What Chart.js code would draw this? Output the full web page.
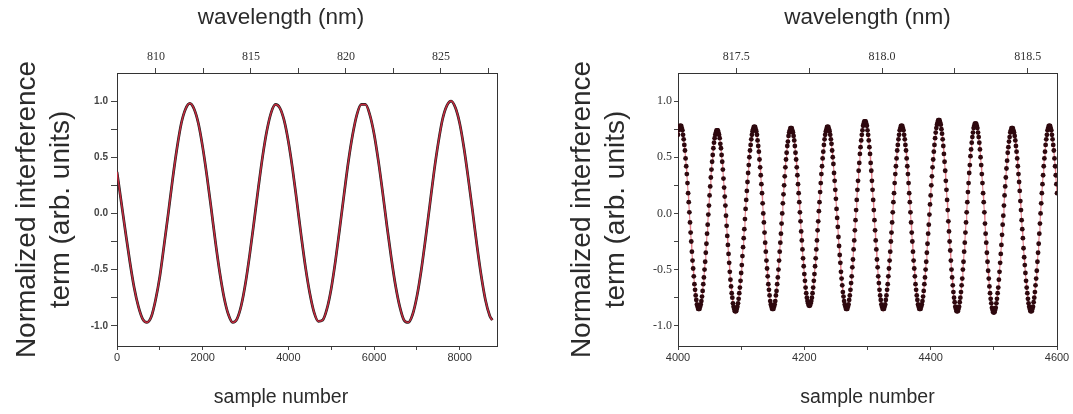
<!DOCTYPE html>
<html>
<head>
<meta charset="utf-8">
<script src="https://cdn.jsdelivr.net/npm/chart.js@4.4.1/dist/chart.umd.min.js"></script>
<style>
  html, body { margin: 0; padding: 0; background: #fff; }
  body { width: 1073px; height: 414px; position: relative; overflow: hidden; }
  canvas { position: absolute; top: 0; }
  #left-chart { left: 0; }
  #right-chart { left: 540px; }
</style>
</head>
<body>
<canvas id="left-chart" width="562" height="414"></canvas>
<canvas id="right-chart" width="533" height="414"></canvas>
<script>
// =============== DATA ===============

// Left panel: whole scan (sample number vs normalized term)
const leftSamples = [
  0, 100, 200, 300, 400, 500, 600, 700, 800, 900,
  1000, 1100, 1200, 1300, 1400, 1500, 1600, 1700, 1800, 1900,
  2000, 2100, 2200, 2300, 2400, 2500, 2600, 2700, 2800, 2900,
  3000, 3100, 3200, 3300, 3400, 3500, 3600, 3700, 3800, 3900,
  4000, 4100, 4200, 4300, 4400, 4500, 4600, 4700, 4800, 4900,
  5000, 5100, 5200, 5300, 5400, 5500, 5600, 5700, 5800, 5900,
  6000, 6100, 6200, 6300, 6400, 6500, 6600, 6700, 6800, 6900,
  7000, 7100, 7200, 7300, 7400, 7500, 7600, 7700, 7800, 7900,
  8000, 8100, 8200, 8300, 8400, 8500, 8600, 8700, 8760
];
const leftSignal = [
  0.37, 0.10, -0.17, -0.43, -0.66, -0.83, -0.94, -0.97, -0.92, -0.77,
  -0.56, -0.28, 0.01, 0.31, 0.58, 0.80, 0.93, 0.98, 0.93, 0.80,
  0.59, 0.33, 0.04, -0.26, -0.53, -0.75, -0.90, -0.97, -0.94, -0.82,
  -0.62, -0.36, -0.07, 0.23, 0.51, 0.74, 0.90, 0.97, 0.94, 0.83,
  0.64, 0.39, 0.10, -0.20, -0.48, -0.71, -0.88, -0.96, -0.95, -0.85,
  -0.67, -0.42, -0.13, 0.17, 0.46, 0.70, 0.88, 0.97, 0.97, 0.88,
  0.71, 0.47, 0.19, -0.11, -0.39, -0.64, -0.83, -0.95, -0.97, -0.90,
  -0.74, -0.51, -0.23, 0.07, 0.37, 0.63, 0.84, 0.96, 1.00, 0.94,
  0.80, 0.58, 0.31, 0.02, -0.28, -0.55, -0.77, -0.91, -0.95
];
const leftBottomTicks = [0, 1000, 2000, 3000, 4000, 5000, 6000, 7000, 8000];
const leftBottomLabels = [0, 2000, 4000, 6000, 8000];
const leftTopTicks = [810, 812.5, 815, 817.5, 820, 822.5, 825, 827.5];
const leftTopLabels = [810, 815, 820, 825];
const leftSampleRange = [0, 8870];
const leftWavelengthRange = [807.95, 827.95];

// Right panel: one sample per point, samples 4000..4600
const rightFirstSample = 4000;
const rightSignal = [
  0.70, 0.74, 0.76, 0.78, 0.78,
  0.78, 0.76, 0.74, 0.70, 0.66, 0.61, 0.56, 0.49, 0.42, 0.35, 0.27, 0.18, 0.10, 0.01, -0.08,
  -0.17, -0.25, -0.34, -0.42, -0.49, -0.56, -0.63, -0.68, -0.73, -0.77, -0.81, -0.83, -0.85, -0.85,
  -0.85, -0.83, -0.81, -0.78, -0.74, -0.69, -0.63, -0.57, -0.50, -0.43, -0.35, -0.27, -0.18, -0.10, -0.01,
  0.07, 0.16, 0.24, 0.32, 0.39, 0.46, 0.52, 0.58, 0.63, 0.67, 0.70, 0.72, 0.74, 0.74,
  0.74, 0.72, 0.70, 0.67, 0.62, 0.58, 0.52, 0.46, 0.39, 0.31, 0.23, 0.15, 0.07, -0.02, -0.11,
  -0.20, -0.28, -0.36, -0.44, -0.52, -0.59, -0.65, -0.71, -0.75, -0.80, -0.83, -0.85, -0.87, -0.87,
  -0.87, -0.85, -0.83, -0.80, -0.76, -0.71, -0.66, -0.60, -0.53, -0.46, -0.38, -0.30, -0.22, -0.14, -0.05,
  0.04, 0.12, 0.20, 0.28, 0.36, 0.43, 0.50, 0.56, 0.61, 0.66, 0.70, 0.73, 0.75, 0.77, 0.77,
  0.77, 0.75, 0.73, 0.70, 0.65, 0.60, 0.55, 0.48, 0.41, 0.34, 0.26, 0.18, 0.09, 0.00, -0.08,
  -0.17, -0.26, -0.34, -0.42, -0.49, -0.56, -0.63, -0.68, -0.73, -0.78, -0.81, -0.83, -0.85, -0.85,
  -0.85, -0.83, -0.81, -0.78, -0.73, -0.69, -0.63, -0.57, -0.50, -0.42, -0.34, -0.26, -0.18, -0.09, 0.00,
  0.09, 0.17, 0.25, 0.33, 0.41, 0.48, 0.54, 0.60, 0.64, 0.69, 0.72, 0.74, 0.76, 0.76,
  0.76, 0.74, 0.72, 0.69, 0.65, 0.60, 0.54, 0.48, 0.41, 0.34, 0.26, 0.18, 0.10, 0.01, -0.07,
  -0.16, -0.24, -0.32, -0.40, -0.47, -0.54, -0.60, -0.66, -0.71, -0.75, -0.78, -0.80, -0.82, -0.82,
  -0.82, -0.80, -0.78, -0.75, -0.71, -0.66, -0.60, -0.54, -0.47, -0.40, -0.32, -0.24, -0.15, -0.07, 0.02,
  0.10, 0.19, 0.27, 0.35, 0.42, 0.49, 0.55, 0.61, 0.66, 0.70, 0.73, 0.75, 0.77, 0.77,
  0.77, 0.75, 0.73, 0.70, 0.66, 0.62, 0.56, 0.50, 0.44, 0.36, 0.29, 0.21, 0.13, 0.04, -0.04,
  -0.12, -0.21, -0.29, -0.37, -0.44, -0.52, -0.58, -0.64, -0.70, -0.74, -0.78, -0.81, -0.83, -0.85, -0.85,
  -0.85, -0.83, -0.81, -0.77, -0.73, -0.68, -0.62, -0.56, -0.48, -0.41, -0.32, -0.24, -0.15, -0.06, 0.03,
  0.12, 0.21, 0.29, 0.38, 0.45, 0.53, 0.59, 0.65, 0.70, 0.74, 0.78, 0.80, 0.82, 0.82,
  0.82, 0.80, 0.78, 0.74, 0.70, 0.65, 0.59, 0.53, 0.45, 0.38, 0.29, 0.21, 0.12, 0.03, -0.06,
  -0.15, -0.24, -0.32, -0.41, -0.48, -0.56, -0.62, -0.68, -0.73, -0.77, -0.81, -0.83, -0.85, -0.85,
  -0.85, -0.83, -0.81, -0.77, -0.73, -0.68, -0.63, -0.56, -0.49, -0.42, -0.34, -0.25, -0.17, -0.08, 0.01,
  0.10, 0.18, 0.27, 0.35, 0.42, 0.49, 0.56, 0.61, 0.66, 0.70, 0.74, 0.76, 0.78, 0.78,
  0.78, 0.76, 0.74, 0.70, 0.66, 0.61, 0.56, 0.49, 0.42, 0.35, 0.27, 0.18, 0.10, 0.01, -0.08,
  -0.17, -0.25, -0.34, -0.42, -0.49, -0.56, -0.63, -0.68, -0.73, -0.77, -0.81, -0.83, -0.85, -0.85,
  -0.85, -0.83, -0.81, -0.78, -0.74, -0.69, -0.63, -0.57, -0.50, -0.43, -0.35, -0.27, -0.18, -0.10, -0.01,
  0.08, 0.16, 0.25, 0.33, 0.41, 0.48, 0.55, 0.61, 0.67, 0.72, 0.76, 0.79, 0.81, 0.83, 0.83,
  0.83, 0.81, 0.79, 0.75, 0.71, 0.66, 0.60, 0.53, 0.46, 0.38, 0.29, 0.21, 0.12, 0.03, -0.07,
  -0.16, -0.25, -0.33, -0.42, -0.50, -0.57, -0.64, -0.70, -0.75, -0.79, -0.83, -0.85, -0.87, -0.87,
  -0.87, -0.85, -0.83, -0.79, -0.75, -0.70, -0.64, -0.58, -0.50, -0.43, -0.34, -0.26, -0.17, -0.08, 0.01,
  0.10, 0.19, 0.27, 0.36, 0.43, 0.51, 0.57, 0.63, 0.68, 0.72, 0.76, 0.78, 0.80, 0.80,
  0.80, 0.78, 0.76, 0.72, 0.68, 0.63, 0.57, 0.50, 0.43, 0.35, 0.27, 0.18, 0.10, 0.01, -0.09,
  -0.18, -0.26, -0.35, -0.43, -0.51, -0.58, -0.65, -0.71, -0.76, -0.80, -0.84, -0.86, -0.88, -0.88,
  -0.88, -0.86, -0.84, -0.80, -0.76, -0.71, -0.66, -0.59, -0.52, -0.44, -0.36, -0.28, -0.19, -0.10, -0.02,
  0.07, 0.16, 0.24, 0.32, 0.40, 0.47, 0.54, 0.59, 0.64, 0.68, 0.72, 0.74, 0.76, 0.76,
  0.76, 0.74, 0.72, 0.69, 0.65, 0.60, 0.55, 0.49, 0.42, 0.35, 0.28, 0.20, 0.11, 0.03, -0.06,
  -0.14, -0.22, -0.31, -0.39, -0.46, -0.53, -0.60, -0.66, -0.71, -0.76, -0.80, -0.83, -0.85, -0.87, -0.87,
  -0.87, -0.85, -0.83, -0.79, -0.75, -0.70, -0.64, -0.58, -0.51, -0.43, -0.35, -0.27, -0.18, -0.09, 0.00,
  0.09, 0.18, 0.26, 0.34, 0.42, 0.49, 0.55, 0.61, 0.66, 0.70, 0.74, 0.76, 0.78, 0.78,
  0.78, 0.76, 0.74, 0.70, 0.66, 0.61, 0.56, 0.49, 0.42, 0.34, 0.26, 0.18
];
const rightBottomTicks = [4000, 4100, 4200, 4300, 4400, 4500, 4600];
const rightBottomLabels = [4000, 4200, 4400, 4600];
const rightTopTicks = [817.5, 817.75, 818.0, 818.25, 818.5];
const rightTopLabels = [817.5, 818.0, 818.5];
const rightSampleRange = [4000, 4600];
const rightWavelengthRange = [817.30, 818.60];

const yTicks = [-1.0, -0.75, -0.5, -0.25, 0.0, 0.25, 0.5, 0.75, 1.0];
const yLabels = [-1.0, -0.5, 0.0, 0.5, 1.0];
const yRange = [-1.18, 1.25];

// =============== STYLE ===============
const SANS = "'Liberation Sans', Arial, sans-serif";
const SERIF = "'Liberation Serif', 'Times New Roman', serif";
const INK = '#2b2b2b';

function useTicks(list) {
  return scale => { scale.ticks = list.map(v => ({ value: v })); };
}

function labelIf(list, digits) {
  return value => list.some(t => Math.abs(t - value) < 1e-6) ? Number(value).toFixed(digits) : '';
}

function tickGrid(len) {
  return { drawOnChartArea: false, drawTicks: true, tickLength: len, tickColor: '#444', tickWidth: 1 };
}

const frameBorder = { display: true, color: '#333', width: 1 };

// =============== LEFT CHART ===============
const leftPoints = leftSamples.map((s, i) => ({ x: s, y: leftSignal[i] }));

new Chart(document.getElementById('left-chart'), {
  type: 'scatter',
  data: {
    datasets: [
      { label: 'fit', data: leftPoints, showLine: true, borderColor: 'rgb(196,42,62)', borderWidth: 1.5,
        pointRadius: 0, cubicInterpolationMode: 'monotone', order: 0 },
      { label: 'measured', data: leftPoints, showLine: true, borderColor: '#1d1d1d', borderWidth: 2.7,
        pointRadius: 0, cubicInterpolationMode: 'monotone', order: 1 }
    ]
  },
  options: {
    responsive: false,
    animation: false,
    devicePixelRatio: 1,
    layout: { padding: 0 },
    plugins: {
      legend: { display: false },
      tooltip: { enabled: false },
      title: { display: true, text: 'wavelength (nm)', position: 'top', color: INK,
        font: { family: SANS, size: 22.5, weight: 'normal', lineHeight: 1.2 }, padding: { top: 4, bottom: 2 } },
      subtitle: { display: true, text: 'sample number', position: 'bottom', color: INK,
        font: { family: SANS, size: 19.5, weight: 'normal', lineHeight: 1.2 }, padding: { top: 2, bottom: 5 } }
    },
    scales: {
      x: {
        type: 'linear', position: 'bottom', min: leftSampleRange[0], max: leftSampleRange[1],
        afterFit: s => { s.height = 68 - 30.4; },
        afterBuildTicks: useTicks(leftBottomTicks),
        ticks: { autoSkip: false, maxRotation: 0, padding: 1,
          color: '#333', font: { family: SANS, size: 11 }, callback: labelIf(leftBottomLabels, 0) },
        grid: tickGrid(4), border: frameBorder
      },
      x2: {
        type: 'linear', position: 'top', min: leftWavelengthRange[0], max: leftWavelengthRange[1],
        afterFit: s => { s.height = 73 - 33; },
        afterBuildTicks: useTicks(leftTopTicks),
        ticks: { autoSkip: false, maxRotation: 0, padding: 4,
          color: '#333', font: { family: SERIF, size: 12 }, callback: labelIf(leftTopLabels, 0) },
        grid: tickGrid(5), border: frameBorder
      },
      y: {
        type: 'linear', position: 'left', min: yRange[0], max: yRange[1],
        afterFit: s => { s.width = 117; },
        afterBuildTicks: useTicks(yTicks),
        ticks: { autoSkip: false, padding: 3,
          color: '#444', font: { family: SANS, size: 10, weight: 'bold' }, callback: labelIf(yLabels, 1) },
        grid: tickGrid(6), border: frameBorder,
        title: { display: true, text: ['Normalized interference', 'term (arb. units)'], color: INK,
          font: { family: SANS, size: 28, lineHeight: 1.22 }, padding: { top: 10, bottom: 0 } }
      },
      y2: {
        type: 'linear', position: 'right', min: yRange[0], max: yRange[1],
        afterFit: s => { s.width = 65; },
        ticks: { display: false }, grid: { display: false, drawTicks: false }, border: frameBorder
      }
    }
  }
});

// =============== RIGHT CHART ===============
const rightPoints = rightSignal.map((v, i) => ({ x: rightFirstSample + i, y: v }));

new Chart(document.getElementById('right-chart'), {
  type: 'scatter',
  data: {
    datasets: [
      { label: 'measured', data: rightPoints, showLine: false, pointRadius: 2.4, pointBorderWidth: 0,
        pointBackgroundColor: 'rgb(46,8,14)', order: 0 },
      { label: 'fit', data: rightPoints, showLine: true, pointRadius: 0, borderWidth: 1.1,
        borderColor: 'rgba(228,118,130,0.95)', order: 1 }
    ]
  },
  options: {
    responsive: false,
    animation: false,
    devicePixelRatio: 1,
    layout: { padding: 0 },
    plugins: { legend: { display: false }, tooltip: { enabled: false } },
    scales: {
      x: {
        type: 'linear', position: 'bottom', min: rightSampleRange[0], max: rightSampleRange[1],
        afterFit: s => { s.height = 68; },
        afterBuildTicks: useTicks(rightBottomTicks),
        ticks: { autoSkip: false, maxRotation: 0, padding: 1,
          color: '#333', font: { family: SANS, size: 11 }, callback: labelIf(rightBottomLabels, 0) },
        grid: tickGrid(4), border: frameBorder,
        title: { display: true, text: 'sample number', color: INK,
          font: { family: SANS, size: 19.5, lineHeight: 1.2 }, padding: { top: 0, bottom: 5 } }
      },
      x2: {
        type: 'linear', position: 'top', min: rightWavelengthRange[0], max: rightWavelengthRange[1],
        afterFit: s => { s.height = 73; },
        afterBuildTicks: useTicks(rightTopTicks),
        ticks: { autoSkip: false, maxRotation: 0, padding: 4,
          color: '#333', font: { family: SERIF, size: 12 }, callback: labelIf(rightTopLabels, 1) },
        grid: tickGrid(5), border: frameBorder,
        title: { display: true, text: 'wavelength (nm)', color: INK,
          font: { family: SANS, size: 22.5, lineHeight: 1.2 }, padding: { top: 4, bottom: 0 } }
      },
      y: {
        type: 'linear', position: 'left', min: yRange[0], max: yRange[1],
        afterFit: s => { s.width = 138; },
        afterBuildTicks: useTicks(yTicks),
        ticks: { autoSkip: false, padding: 2,
          color: '#333', font: { family: SERIF, size: 12 }, callback: labelIf(yLabels, 1) },
        grid: tickGrid(4), border: frameBorder,
        title: { display: true, text: ['Normalized interference', 'term (arb. units)'], color: INK,
          font: { family: SANS, size: 28, lineHeight: 1.22 }, padding: { top: 25, bottom: 0 } }
      },
      y2: {
        type: 'linear', position: 'right', min: yRange[0], max: yRange[1],
        afterFit: s => { s.width = 16; },
        ticks: { display: false }, grid: { display: false, drawTicks: false }, border: frameBorder
      }
    }
  }
});
</script>
</body>
</html>
